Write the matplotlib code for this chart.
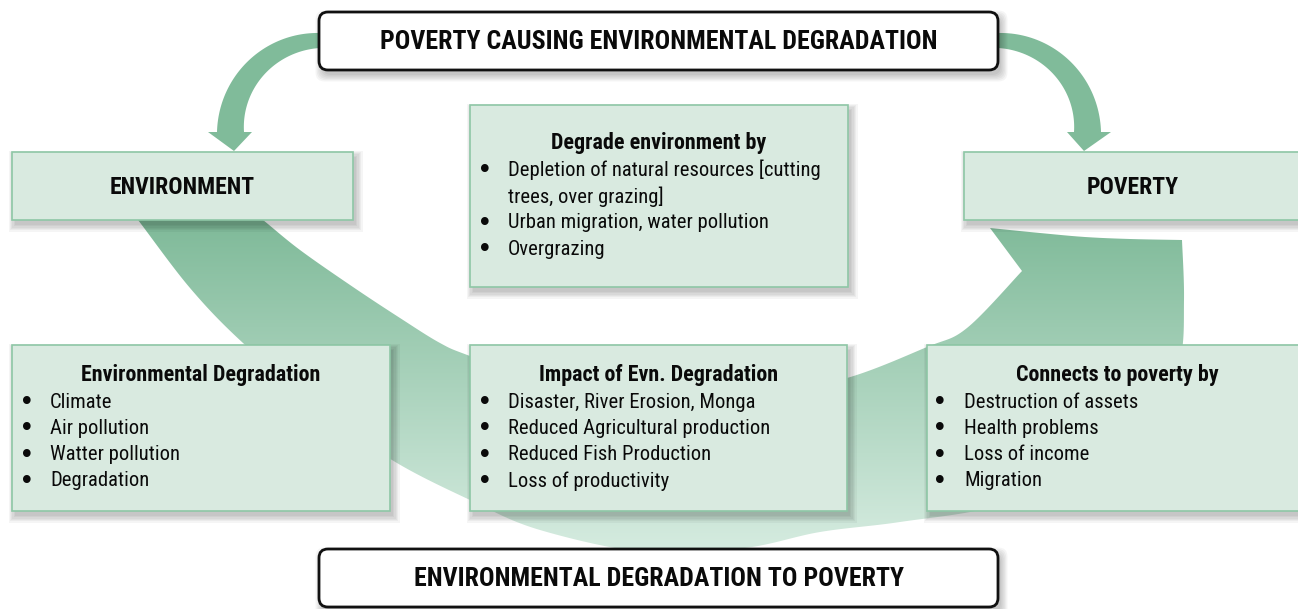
import numpy as np
import matplotlib
matplotlib.use("Agg")
import matplotlib.pyplot as plt
from matplotlib import font_manager
from matplotlib.patches import Rectangle, FancyBboxPatch, Polygon

# Diagram content
top_title = "POVERTY CAUSING ENVIRONMENTAL DEGRADATION"
bottom_title = "ENVIRONMENTAL DEGRADATION TO POVERTY"
left_label = "ENVIRONMENT"
right_label = "POVERTY"

degrade_title = "Degrade environment by"
degrade_items = ["Depletion of natural resources [cutting\ntrees, over grazing]",
                 "Urban migration, water pollution",
                 "Overgrazing"]
envdeg_title = "Environmental Degradation"
envdeg_items = ["Climate", "Air pollution", "Watter pollution", "Degradation"]
impact_title = "Impact of Evn. Degradation"
impact_items = ["Disaster, River Erosion, Monga", "Reduced Agricultural production",
                "Reduced Fish Production", "Loss of productivity"]
connect_title = "Connects to poverty by"
connect_items = ["Destruction of assets", "Health problems", "Loss of income", "Migration"]

# condensed sans font if installed
names = {f.name for f in font_manager.fontManager.ttflist}
family = "Roboto"
for cand in ["Roboto Condensed", "Liberation Sans Narrow", "Open Sans Condensed"]:
    if cand in names:
        family = cand
        break

W, H = 1298, 609
fig = plt.figure(figsize=(W / 100, H / 100), dpi=100)
ax = fig.add_axes([0, 0, 1, 1])
ax.set_xlim(0, W)
ax.set_ylim(H, 0)
ax.axis("off")

BOX_FILL = "#d9eae0"
BOX_EDGE = "#8ec7a6"
ARROW = "#80bb9a"
INK = "#0a0a0a"


def catmull(pts, n=20):
    pts = np.asarray(pts, float)
    p = np.vstack([pts[0], pts, pts[-1]])
    out = []
    for i in range(1, len(p) - 2):
        p0, p1, p2, p3 = p[i - 1], p[i], p[i + 1], p[i + 2]
        for t in np.linspace(0, 1, n, endpoint=False):
            t2, t3 = t * t, t * t * t
            out.append(0.5 * ((2 * p1) + (-p0 + p2) * t + (2 * p0 - 5 * p1 + 4 * p2 - p3) * t2
                              + (-p0 + 3 * p1 - 3 * p2 + p3) * t3))
    out.append(pts[-1])
    return np.array(out)


def shadow(x, y, w, h, rounded=False):
    for i in range(6):
        g = i * 1.3
        if rounded:
            s = FancyBboxPatch((x + 3 - g, y + 5 - g), w + 2 * g, h + 2 * g,
                               boxstyle="round,pad=0,rounding_size=9", lw=0,
                               fc="black", alpha=0.04, zorder=2)
        else:
            s = Rectangle((x + 3 - g, y + 5 - g), w + 2 * g, h + 2 * g, lw=0,
                          fc="black", alpha=0.04, zorder=2)
        ax.add_patch(s)


def green_box(x, y, w, h):
    shadow(x, y, w, h)
    ax.add_patch(Rectangle((x, y), w, h, fc=BOX_FILL, ec=BOX_EDGE, lw=1.2, zorder=3))


def white_box(x, y, w, h, label):
    shadow(x, y, w, h, rounded=True)
    ax.add_patch(FancyBboxPatch((x, y), w, h, boxstyle="round,pad=0,rounding_size=9",
                                fc="white", ec="#111111", lw=2, zorder=3))
    ax.text(x + w / 2, y + h / 2 + 1, label, ha="center", va="center", fontsize=18.6,
            fontweight="bold", family=family, color=INK, zorder=4)


def bullet_panel(x, y, w, h, title, items, title_y, first_y, step, bx, tx):
    green_box(x, y, w, h)
    ax.text(x + w / 2, title_y, title, ha="center", va="center", fontsize=15.8,
            fontweight="bold", family=family, color=INK, zorder=4)
    ly = first_y
    for item in items:
        for k, line in enumerate(item.split("\n")):
            if k == 0:
                ax.text(bx, ly + 1, "\u2022", ha="center", va="center", fontsize=19,
                        family="DejaVu Sans", color=INK, zorder=4)
            ax.text(tx, ly, line, ha="left", va="center", fontsize=14.9,
                    family=family, color=INK, zorder=4)
            ly += step


# big curved arrow with vertical gradient
outer = [(125, 205), (138, 220), (190, 288), (243, 343), (320, 408), (392, 460), (470, 500),
         (540, 530), (650, 553), (745, 548), (820, 532), (900, 522), (1000, 505),
         (1090, 465), (1155, 410), (1180, 360), (1184, 300), (1182, 240)]
head = [(1182, 240), (1130, 239), (1085, 237), (1040, 233), (990, 228)]
inner = [(1022, 271), (967, 328), (927, 347), (847, 378), (760, 395), (658, 400), (560, 388),
         (470, 356), (440, 343), (400, 318), (353, 287), (300, 250), (263, 220), (243, 205)]
poly = np.vstack([catmull(outer), catmull(head, 6), catmull(inner)])
clip = Polygon(poly, closed=True, fc="none", ec="none")
ax.add_patch(clip)
grad = np.linspace(0, 1, 256).reshape(-1, 1)
cmap = matplotlib.colors.LinearSegmentedColormap.from_list("g", ["#7fba99", "#d8ede2"])
im = ax.imshow(grad, extent=(100, 1200, 560, 220), aspect="auto", cmap=cmap,
               origin="upper", zorder=1, interpolation="bicubic")
im.set_clip_path(clip)
ax.set_xlim(0, W)
ax.set_ylim(H, 0)


# small curved arrows from the top box
def small_arrow(cx, cy, side, wings, tip):
    t = np.linspace(-0.1, 1, 60)
    th = t * np.pi / 2
    ro = 99 + 4 * t
    ri = 84 - 8 * t
    xo = cx + side * ro * np.sin(th)
    yo = cy - ro * np.cos(th)
    xi = cx + side * ri * np.sin(th)
    yi = cy - ri * np.cos(th)
    pts = list(zip(xo, yo)) + [(wings[0], cy), tip, (wings[1], cy)] + list(zip(xi[::-1], yi[::-1]))
    ax.add_patch(Polygon(pts, closed=True, fc=ARROW, ec="none", zorder=1))


small_arrow(320, 132, -1, (208, 252), (234, 151))
small_arrow(998, 132, 1, (1111, 1067), (1084, 151))

# boxes
white_box(319, 12, 679, 58, top_title)
white_box(319, 549, 679, 58, bottom_title)

green_box(12, 152, 341, 68)
ax.text(182, 187, left_label, ha="center", va="center", fontsize=17,
        fontweight="bold", family=family, color=INK, zorder=4)
green_box(964, 152, 340, 68)
ax.text(1133, 187, right_label, ha="center", va="center", fontsize=17,
        fontweight="bold", family=family, color=INK, zorder=4)

bullet_panel(470, 105, 378, 182, degrade_title, degrade_items, 143, 170, 26.4, 485, 508)
bullet_panel(12, 345, 378, 166, envdeg_title, envdeg_items, 375, 402, 26.3, 27, 50)
bullet_panel(470, 345, 377, 166, impact_title, impact_items, 375, 402, 26.3, 485, 508)
bullet_panel(927, 345, 380, 166, connect_title, connect_items, 375, 402, 26.3, 940, 964)

fig.savefig("out.png", dpi=100)
